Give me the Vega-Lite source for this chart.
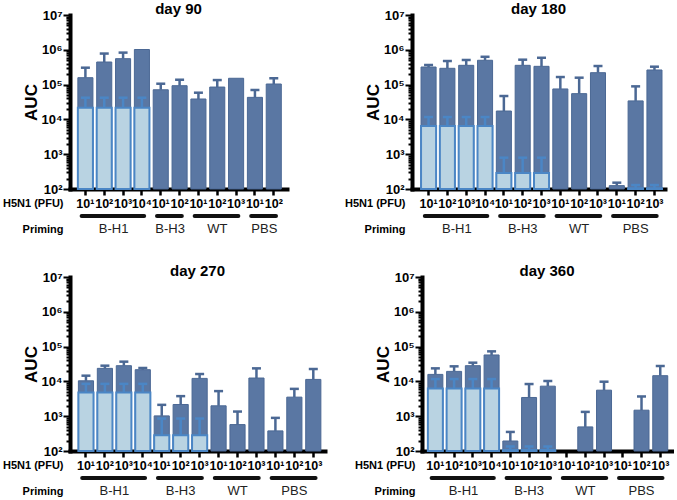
{
  "$schema": "https://vega.github.io/schema/vega-lite/v6.json",
  "padding": {"left": 2, "top": 2, "right": 2, "bottom": 2},
  "background": "white",
  "datasets": {
    "bars": [
      {"day": "day 90", "id": "B-H1 10¹", "auc": 158000, "hi": 306000, "base": 21700, "base_hi": 42000},
      {"day": "day 90", "id": "B-H1 10²", "auc": 446000, "hi": 780000, "base": 21700, "base_hi": 42000},
      {"day": "day 90", "id": "B-H1 10³", "auc": 556000, "hi": 830000, "base": 21700, "base_hi": 42000},
      {"day": "day 90", "id": "B-H1 10⁴", "auc": 1020000, "hi": null, "base": 21700, "base_hi": 42000},
      {"day": "day 90", "id": "B-H3 10¹", "auc": 71000, "hi": 106000, "base": null, "base_hi": null},
      {"day": "day 90", "id": "B-H3 10²", "auc": 93000, "hi": 138000, "base": null, "base_hi": null},
      {"day": "day 90", "id": "WT 10¹", "auc": 38600, "hi": 58500, "base": null, "base_hi": null},
      {"day": "day 90", "id": "WT 10²", "auc": 85000, "hi": 135000, "base": null, "base_hi": null},
      {"day": "day 90", "id": "WT 10³", "auc": 152000, "hi": null, "base": null, "base_hi": null},
      {"day": "day 90", "id": "PBS 10¹", "auc": 43000, "hi": 70000, "base": null, "base_hi": null},
      {"day": "day 90", "id": "PBS 10²", "auc": 104000, "hi": 152000, "base": null, "base_hi": null},

      {"day": "day 180", "id": "B-H1 10¹", "auc": 320000, "hi": 366000, "base": 6460, "base_hi": 11700},
      {"day": "day 180", "id": "B-H1 10²", "auc": 294000, "hi": 476000, "base": 6460, "base_hi": 11700},
      {"day": "day 180", "id": "B-H1 10³", "auc": 358000, "hi": 510000, "base": 6460, "base_hi": 11700},
      {"day": "day 180", "id": "B-H1 10⁴", "auc": 500000, "hi": 630000, "base": 6460, "base_hi": 11700},
      {"day": "day 180", "id": "B-H3 10¹", "auc": 17400, "hi": 47000, "base": 288, "base_hi": 795},
      {"day": "day 180", "id": "B-H3 10²", "auc": 358000, "hi": 520000, "base": 288, "base_hi": 795},
      {"day": "day 180", "id": "B-H3 10³", "auc": 335000, "hi": 590000, "base": 288, "base_hi": 795},
      {"day": "day 180", "id": "WT 10¹", "auc": 75000, "hi": 165000, "base": null, "base_hi": null},
      {"day": "day 180", "id": "WT 10²", "auc": 55000, "hi": 158000, "base": null, "base_hi": null},
      {"day": "day 180", "id": "WT 10³", "auc": 220000, "hi": 342000, "base": null, "base_hi": null},
      {"day": "day 180", "id": "PBS 10¹", "auc": 125, "hi": 152, "base": null, "base_hi": null},
      {"day": "day 180", "id": "PBS 10²", "auc": 34000, "hi": 89000, "base": 105, "base_hi": 130},
      {"day": "day 180", "id": "PBS 10³", "auc": 263000, "hi": 327000, "base": 105, "base_hi": 130},

      {"day": "day 270", "id": "B-H1 10¹", "auc": 10400, "hi": 14600, "base": 4800, "base_hi": 8500},
      {"day": "day 270", "id": "B-H1 10²", "auc": 23700, "hi": 28300, "base": 4800, "base_hi": 8500},
      {"day": "day 270", "id": "B-H1 10³", "auc": 28300, "hi": 36900, "base": 4800, "base_hi": 8500},
      {"day": "day 270", "id": "B-H1 10⁴", "auc": 21700, "hi": 24300, "base": 4800, "base_hi": 8500},
      {"day": "day 270", "id": "B-H3 10¹", "auc": 1020, "hi": 2120, "base": 283, "base_hi": 857},
      {"day": "day 270", "id": "B-H3 10²", "auc": 2170, "hi": 3770, "base": 283, "base_hi": 857},
      {"day": "day 270", "id": "B-H3 10³", "auc": 12200, "hi": 16300, "base": 283, "base_hi": 857},
      {"day": "day 270", "id": "WT 10¹", "auc": 1990, "hi": 5260, "base": null, "base_hi": null},
      {"day": "day 270", "id": "WT 10²", "auc": 575, "hi": 1360, "base": null, "base_hi": null},
      {"day": "day 270", "id": "WT 10³", "auc": 12500, "hi": 23700, "base": null, "base_hi": null},
      {"day": "day 270", "id": "PBS 10¹", "auc": 378, "hi": 895, "base": null, "base_hi": null},
      {"day": "day 270", "id": "PBS 10²", "auc": 3530, "hi": 6100, "base": null, "base_hi": null},
      {"day": "day 270", "id": "PBS 10³", "auc": 11400, "hi": 22700, "base": null, "base_hi": null},

      {"day": "day 360", "id": "B-H1 10¹", "auc": 15900, "hi": 23700, "base": 6300, "base_hi": 11700},
      {"day": "day 360", "id": "B-H1 10²", "auc": 19400, "hi": 27100, "base": 6300, "base_hi": 11700},
      {"day": "day 360", "id": "B-H1 10³", "auc": 28300, "hi": 34500, "base": 6300, "base_hi": 11700},
      {"day": "day 360", "id": "B-H1 10⁴", "auc": 57500, "hi": 73000, "base": 6300, "base_hi": 11700},
      {"day": "day 360", "id": "B-H3 10¹", "auc": 194, "hi": 353, "base": 106, "base_hi": 135},
      {"day": "day 360", "id": "B-H3 10²", "auc": 3450, "hi": 8400, "base": 106, "base_hi": 135},
      {"day": "day 360", "id": "B-H3 10³", "auc": 7300, "hi": 10200, "base": 106, "base_hi": 135},
      {"day": "day 360", "id": "WT 10²", "auc": 492, "hi": 1330, "base": null, "base_hi": null},
      {"day": "day 360", "id": "WT 10³", "auc": 5600, "hi": 9800, "base": null, "base_hi": null},
      {"day": "day 360", "id": "PBS 10²", "auc": 1490, "hi": 3690, "base": null, "base_hi": null},
      {"day": "day 360", "id": "PBS 10³", "auc": 14600, "hi": 27700, "base": null, "base_hi": null}
    ],
    "groups": [
      {"day": "day 90", "group": "B-H1", "first": "B-H1 10¹", "last": "B-H1 10⁴", "center": "B-H1 10²", "n": 4},
      {"day": "day 90", "group": "B-H3", "first": "B-H3 10¹", "last": "B-H3 10²", "center": "B-H3 10¹", "n": 2},
      {"day": "day 90", "group": "WT", "first": "WT 10¹", "last": "WT 10³", "center": "WT 10²", "n": 3},
      {"day": "day 90", "group": "PBS", "first": "PBS 10¹", "last": "PBS 10²", "center": "PBS 10¹", "n": 2},
      {"day": "day 180", "group": "B-H1", "first": "B-H1 10¹", "last": "B-H1 10⁴", "center": "B-H1 10²", "n": 4},
      {"day": "day 180", "group": "B-H3", "first": "B-H3 10¹", "last": "B-H3 10³", "center": "B-H3 10²", "n": 3},
      {"day": "day 180", "group": "WT", "first": "WT 10¹", "last": "WT 10³", "center": "WT 10²", "n": 3},
      {"day": "day 180", "group": "PBS", "first": "PBS 10¹", "last": "PBS 10³", "center": "PBS 10²", "n": 3},
      {"day": "day 270", "group": "B-H1", "first": "B-H1 10¹", "last": "B-H1 10⁴", "center": "B-H1 10²", "n": 4},
      {"day": "day 270", "group": "B-H3", "first": "B-H3 10¹", "last": "B-H3 10³", "center": "B-H3 10²", "n": 3},
      {"day": "day 270", "group": "WT", "first": "WT 10¹", "last": "WT 10³", "center": "WT 10²", "n": 3},
      {"day": "day 270", "group": "PBS", "first": "PBS 10¹", "last": "PBS 10³", "center": "PBS 10²", "n": 3},
      {"day": "day 360", "group": "B-H1", "first": "B-H1 10¹", "last": "B-H1 10⁴", "center": "B-H1 10²", "n": 4},
      {"day": "day 360", "group": "B-H3", "first": "B-H3 10¹", "last": "B-H3 10³", "center": "B-H3 10²", "n": 3},
      {"day": "day 360", "group": "WT", "first": "WT 10¹", "last": "WT 10³", "center": "WT 10²", "n": 3},
      {"day": "day 360", "group": "PBS", "first": "PBS 10¹", "last": "PBS 10³", "center": "PBS 10²", "n": 3}
    ]
  },
  "spacing": 28,
  "vconcat": [
    {
      "spacing": 57,
      "hconcat": [
        {
          "width": 217, "height": 174,
          "title": "day 90",
          "layer": [
            {"data": {"name": "bars"}, "transform": [{"filter": "datum.day == 'day 90' && isValid(datum.auc)"}],
             "mark": {"type": "bar", "fill": "#5a77a3", "stroke": "#4b6894", "strokeWidth": 1},
             "encoding": {
               "x": {"field": "id", "type": "nominal", "scale": {"domain": ["B-H1 10¹","B-H1 10²","B-H1 10³","B-H1 10⁴","B-H3 10¹","B-H3 10²","WT 10¹","WT 10²","WT 10³","PBS 10¹","PBS 10²"], "paddingInner": 0.2, "paddingOuter": 0.36, "align": 0.58},
                     "axis": {"title": ["H5N1 (PFU)", "Priming"], "labelExpr": "split(datum.label, ' ')[1]"}},
               "y": {"field": "auc", "type": "quantitative", "scale": {"type": "log", "domain": [100, 10000000], "nice": false},
                     "axis": {"title": "AUC", "values": [100,200,300,400,500,600,700,800,900,1000,2000,3000,4000,5000,6000,7000,8000,9000,10000,20000,30000,40000,50000,60000,70000,80000,90000,100000,200000,300000,400000,500000,600000,700000,800000,900000,1000000,2000000,3000000,4000000,5000000,6000000,7000000,8000000,9000000,10000000],
                              "labelExpr": "abs(log(datum.value)/LN10 - round(log(datum.value)/LN10)) < 0.01 ? '10' + ['⁰','¹','²','³','⁴','⁵','⁶','⁷'][round(log(datum.value)/LN10)] : ''",
                              "tickSize": {"condition": {"test": "abs(log(datum.value)/LN10 - round(log(datum.value)/LN10)) < 0.01", "value": 7}, "value": 4}}},
               "y2": {"datum": 100}
             }},
            {"data": {"name": "bars"}, "transform": [{"filter": "datum.day == 'day 90' && isValid(datum.hi)"}],
             "mark": {"type": "rule", "stroke": "#4b6894", "strokeWidth": 2.5},
             "encoding": {"x": {"field": "id", "type": "nominal"}, "y": {"field": "auc", "type": "quantitative"}, "y2": {"field": "hi"}}},
            {"data": {"name": "bars"}, "transform": [{"filter": "datum.day == 'day 90' && isValid(datum.hi)"}],
             "mark": {"type": "tick", "color": "#4b6894", "size": 9, "thickness": 2.5, "opacity": 1},
             "encoding": {"x": {"field": "id", "type": "nominal"}, "y": {"field": "hi", "type": "quantitative"}}},
            {"data": {"name": "bars"}, "transform": [{"filter": "datum.day == 'day 90' && isValid(datum.base)"}],
             "mark": {"type": "bar", "fill": "#b9d3e2", "stroke": "#4b86c5", "strokeWidth": 2},
             "encoding": {"x": {"field": "id", "type": "nominal"}, "y": {"field": "base", "type": "quantitative"}, "y2": {"datum": 100}}},
            {"data": {"name": "bars"}, "transform": [{"filter": "datum.day == 'day 90' && isValid(datum.base_hi)"}],
             "mark": {"type": "rule", "stroke": "#4b86c5", "strokeWidth": 2.5},
             "encoding": {"x": {"field": "id", "type": "nominal"}, "y": {"field": "base", "type": "quantitative"}, "y2": {"field": "base_hi"}}},
            {"data": {"name": "bars"}, "transform": [{"filter": "datum.day == 'day 90' && isValid(datum.base_hi)"}],
             "mark": {"type": "tick", "color": "#4b86c5", "size": 9, "thickness": 2.5, "opacity": 1},
             "encoding": {"x": {"field": "id", "type": "nominal"}, "y": {"field": "base_hi", "type": "quantitative"}}},
            {"data": {"name": "groups"}, "transform": [{"filter": "datum.day == 'day 90'"}],
             "mark": {"type": "rule", "stroke": "#111", "strokeWidth": 4, "strokeCap": "round"},
             "encoding": {"x": {"field": "first", "type": "nominal", "bandPosition": 0.25}, "x2": {"field": "last", "bandPosition": 0.65}, "y": {"datum": 16.8}}},
            {"data": {"name": "groups"}, "transform": [{"filter": "datum.day == 'day 90' && datum.n % 2 == 1"}],
             "mark": {"type": "text", "fontSize": 13, "font": "Liberation Sans", "color": "#222", "baseline": "middle"},
             "encoding": {"x": {"field": "center", "type": "nominal", "bandPosition": 0.5}, "y": {"datum": 7.1}, "text": {"field": "group"}}},
            {"data": {"name": "groups"}, "transform": [{"filter": "datum.day == 'day 90' && datum.n % 2 == 0"}],
             "mark": {"type": "text", "fontSize": 13, "font": "Liberation Sans", "color": "#222", "baseline": "middle"},
             "encoding": {"x": {"field": "center", "type": "nominal", "bandPosition": 1.125}, "y": {"datum": 7.1}, "text": {"field": "group"}}}
          ]
        },
        {
          "width": 253, "height": 174,
          "title": "day 180",
          "layer": [
            {"data": {"name": "bars"}, "transform": [{"filter": "datum.day == 'day 180' && isValid(datum.auc)"}],
             "mark": {"type": "bar", "fill": "#5a77a3", "stroke": "#4b6894", "strokeWidth": 1},
             "encoding": {
               "x": {"field": "id", "type": "nominal", "scale": {"domain": ["B-H1 10¹","B-H1 10²","B-H1 10³","B-H1 10⁴","B-H3 10¹","B-H3 10²","B-H3 10³","WT 10¹","WT 10²","WT 10³","PBS 10¹","PBS 10²","PBS 10³"], "paddingInner": 0.2, "paddingOuter": 0.32, "align": 0.75},
                     "axis": {"title": ["H5N1 (PFU)", "Priming"], "labelExpr": "split(datum.label, ' ')[1]"}},
               "y": {"field": "auc", "type": "quantitative", "scale": {"type": "log", "domain": [100, 10000000], "nice": false},
                     "axis": {"title": "AUC", "values": [100,200,300,400,500,600,700,800,900,1000,2000,3000,4000,5000,6000,7000,8000,9000,10000,20000,30000,40000,50000,60000,70000,80000,90000,100000,200000,300000,400000,500000,600000,700000,800000,900000,1000000,2000000,3000000,4000000,5000000,6000000,7000000,8000000,9000000,10000000],
                              "labelExpr": "abs(log(datum.value)/LN10 - round(log(datum.value)/LN10)) < 0.01 ? '10' + ['⁰','¹','²','³','⁴','⁵','⁶','⁷'][round(log(datum.value)/LN10)] : ''",
                              "tickSize": {"condition": {"test": "abs(log(datum.value)/LN10 - round(log(datum.value)/LN10)) < 0.01", "value": 7}, "value": 4}}},
               "y2": {"datum": 100}
             }},
            {"data": {"name": "bars"}, "transform": [{"filter": "datum.day == 'day 180' && isValid(datum.hi)"}],
             "mark": {"type": "rule", "stroke": "#4b6894", "strokeWidth": 2.5},
             "encoding": {"x": {"field": "id", "type": "nominal"}, "y": {"field": "auc", "type": "quantitative"}, "y2": {"field": "hi"}}},
            {"data": {"name": "bars"}, "transform": [{"filter": "datum.day == 'day 180' && isValid(datum.hi)"}],
             "mark": {"type": "tick", "color": "#4b6894", "size": 9, "thickness": 2.5, "opacity": 1},
             "encoding": {"x": {"field": "id", "type": "nominal"}, "y": {"field": "hi", "type": "quantitative"}}},
            {"data": {"name": "bars"}, "transform": [{"filter": "datum.day == 'day 180' && isValid(datum.base)"}],
             "mark": {"type": "bar", "fill": "#b9d3e2", "stroke": "#4b86c5", "strokeWidth": 2},
             "encoding": {"x": {"field": "id", "type": "nominal"}, "y": {"field": "base", "type": "quantitative"}, "y2": {"datum": 100}}},
            {"data": {"name": "bars"}, "transform": [{"filter": "datum.day == 'day 180' && isValid(datum.base_hi)"}],
             "mark": {"type": "rule", "stroke": "#4b86c5", "strokeWidth": 2.5},
             "encoding": {"x": {"field": "id", "type": "nominal"}, "y": {"field": "base", "type": "quantitative"}, "y2": {"field": "base_hi"}}},
            {"data": {"name": "bars"}, "transform": [{"filter": "datum.day == 'day 180' && isValid(datum.base_hi)"}],
             "mark": {"type": "tick", "color": "#4b86c5", "size": 9, "thickness": 2.5, "opacity": 1},
             "encoding": {"x": {"field": "id", "type": "nominal"}, "y": {"field": "base_hi", "type": "quantitative"}}},
            {"data": {"name": "groups"}, "transform": [{"filter": "datum.day == 'day 180'"}],
             "mark": {"type": "rule", "stroke": "#111", "strokeWidth": 4, "strokeCap": "round"},
             "encoding": {"x": {"field": "first", "type": "nominal", "bandPosition": 0.25}, "x2": {"field": "last", "bandPosition": 0.65}, "y": {"datum": 16.8}}},
            {"data": {"name": "groups"}, "transform": [{"filter": "datum.day == 'day 180' && datum.n % 2 == 1"}],
             "mark": {"type": "text", "fontSize": 13, "font": "Liberation Sans", "color": "#222", "baseline": "middle"},
             "encoding": {"x": {"field": "center", "type": "nominal", "bandPosition": 0.5}, "y": {"datum": 7.1}, "text": {"field": "group"}}},
            {"data": {"name": "groups"}, "transform": [{"filter": "datum.day == 'day 180' && datum.n % 2 == 0"}],
             "mark": {"type": "text", "fontSize": 13, "font": "Liberation Sans", "color": "#222", "baseline": "middle"},
             "encoding": {"x": {"field": "center", "type": "nominal", "bandPosition": 1.125}, "y": {"datum": 7.1}, "text": {"field": "group"}}}
          ]
        }
      ]
    },
    {
      "spacing": 29,
      "hconcat": [
        {
          "width": 255, "height": 174,
          "title": "day 270",
          "layer": [
            {"data": {"name": "bars"}, "transform": [{"filter": "datum.day == 'day 270' && isValid(datum.auc)"}],
             "mark": {"type": "bar", "fill": "#5a77a3", "stroke": "#4b6894", "strokeWidth": 1},
             "encoding": {
               "x": {"field": "id", "type": "nominal", "scale": {"domain": ["B-H1 10¹","B-H1 10²","B-H1 10³","B-H1 10⁴","B-H3 10¹","B-H3 10²","B-H3 10³","WT 10¹","WT 10²","WT 10³","PBS 10¹","PBS 10²","PBS 10³"], "paddingInner": 0.2, "paddingOuter": 0.33, "align": 0.67},
                     "axis": {"title": ["H5N1 (PFU)", "Priming"], "labelExpr": "split(datum.label, ' ')[1]"}},
               "y": {"field": "auc", "type": "quantitative", "scale": {"type": "log", "domain": [100, 10000000], "nice": false},
                     "axis": {"title": "AUC", "values": [100,200,300,400,500,600,700,800,900,1000,2000,3000,4000,5000,6000,7000,8000,9000,10000,20000,30000,40000,50000,60000,70000,80000,90000,100000,200000,300000,400000,500000,600000,700000,800000,900000,1000000,2000000,3000000,4000000,5000000,6000000,7000000,8000000,9000000,10000000],
                              "labelExpr": "abs(log(datum.value)/LN10 - round(log(datum.value)/LN10)) < 0.01 ? '10' + ['⁰','¹','²','³','⁴','⁵','⁶','⁷'][round(log(datum.value)/LN10)] : ''",
                              "tickSize": {"condition": {"test": "abs(log(datum.value)/LN10 - round(log(datum.value)/LN10)) < 0.01", "value": 7}, "value": 4}}},
               "y2": {"datum": 100}
             }},
            {"data": {"name": "bars"}, "transform": [{"filter": "datum.day == 'day 270' && isValid(datum.hi)"}],
             "mark": {"type": "rule", "stroke": "#4b6894", "strokeWidth": 2.5},
             "encoding": {"x": {"field": "id", "type": "nominal"}, "y": {"field": "auc", "type": "quantitative"}, "y2": {"field": "hi"}}},
            {"data": {"name": "bars"}, "transform": [{"filter": "datum.day == 'day 270' && isValid(datum.hi)"}],
             "mark": {"type": "tick", "color": "#4b6894", "size": 9, "thickness": 2.5, "opacity": 1},
             "encoding": {"x": {"field": "id", "type": "nominal"}, "y": {"field": "hi", "type": "quantitative"}}},
            {"data": {"name": "bars"}, "transform": [{"filter": "datum.day == 'day 270' && isValid(datum.base)"}],
             "mark": {"type": "bar", "fill": "#b9d3e2", "stroke": "#4b86c5", "strokeWidth": 2},
             "encoding": {"x": {"field": "id", "type": "nominal"}, "y": {"field": "base", "type": "quantitative"}, "y2": {"datum": 100}}},
            {"data": {"name": "bars"}, "transform": [{"filter": "datum.day == 'day 270' && isValid(datum.base_hi)"}],
             "mark": {"type": "rule", "stroke": "#4b86c5", "strokeWidth": 2.5},
             "encoding": {"x": {"field": "id", "type": "nominal"}, "y": {"field": "base", "type": "quantitative"}, "y2": {"field": "base_hi"}}},
            {"data": {"name": "bars"}, "transform": [{"filter": "datum.day == 'day 270' && isValid(datum.base_hi)"}],
             "mark": {"type": "tick", "color": "#4b86c5", "size": 9, "thickness": 2.5, "opacity": 1},
             "encoding": {"x": {"field": "id", "type": "nominal"}, "y": {"field": "base_hi", "type": "quantitative"}}},
            {"data": {"name": "groups"}, "transform": [{"filter": "datum.day == 'day 270'"}],
             "mark": {"type": "rule", "stroke": "#111", "strokeWidth": 4, "strokeCap": "round"},
             "encoding": {"x": {"field": "first", "type": "nominal", "bandPosition": 0.25}, "x2": {"field": "last", "bandPosition": 0.65}, "y": {"datum": 16.8}}},
            {"data": {"name": "groups"}, "transform": [{"filter": "datum.day == 'day 270' && datum.n % 2 == 1"}],
             "mark": {"type": "text", "fontSize": 13, "font": "Liberation Sans", "color": "#222", "baseline": "middle"},
             "encoding": {"x": {"field": "center", "type": "nominal", "bandPosition": 0.5}, "y": {"datum": 7.1}, "text": {"field": "group"}}},
            {"data": {"name": "groups"}, "transform": [{"filter": "datum.day == 'day 270' && datum.n % 2 == 0"}],
             "mark": {"type": "text", "fontSize": 13, "font": "Liberation Sans", "color": "#222", "baseline": "middle"},
             "encoding": {"x": {"field": "center", "type": "nominal", "bandPosition": 1.125}, "y": {"datum": 7.1}, "text": {"field": "group"}}}
          ]
        },
        {
          "width": 250, "height": 174,
          "title": "day 360",
          "layer": [
            {"data": {"name": "bars"}, "transform": [{"filter": "datum.day == 'day 360' && isValid(datum.auc)"}],
             "mark": {"type": "bar", "fill": "#5a77a3", "stroke": "#4b6894", "strokeWidth": 1},
             "encoding": {
               "x": {"field": "id", "type": "nominal", "scale": {"domain": ["B-H1 10¹","B-H1 10²","B-H1 10³","B-H1 10⁴","B-H3 10¹","B-H3 10²","B-H3 10³","WT 10¹","WT 10²","WT 10³","PBS 10¹","PBS 10²","PBS 10³"], "paddingInner": 0.2, "paddingOuter": 0.27, "align": 0.58},
                     "axis": {"title": ["H5N1 (PFU)", "Priming"], "labelExpr": "split(datum.label, ' ')[1]"}},
               "y": {"field": "auc", "type": "quantitative", "scale": {"type": "log", "domain": [100, 10000000], "nice": false},
                     "axis": {"title": "AUC", "values": [100,200,300,400,500,600,700,800,900,1000,2000,3000,4000,5000,6000,7000,8000,9000,10000,20000,30000,40000,50000,60000,70000,80000,90000,100000,200000,300000,400000,500000,600000,700000,800000,900000,1000000,2000000,3000000,4000000,5000000,6000000,7000000,8000000,9000000,10000000],
                              "labelExpr": "abs(log(datum.value)/LN10 - round(log(datum.value)/LN10)) < 0.01 ? '10' + ['⁰','¹','²','³','⁴','⁵','⁶','⁷'][round(log(datum.value)/LN10)] : ''",
                              "tickSize": {"condition": {"test": "abs(log(datum.value)/LN10 - round(log(datum.value)/LN10)) < 0.01", "value": 7}, "value": 4}}},
               "y2": {"datum": 100}
             }},
            {"data": {"name": "bars"}, "transform": [{"filter": "datum.day == 'day 360' && isValid(datum.hi)"}],
             "mark": {"type": "rule", "stroke": "#4b6894", "strokeWidth": 2.5},
             "encoding": {"x": {"field": "id", "type": "nominal"}, "y": {"field": "auc", "type": "quantitative"}, "y2": {"field": "hi"}}},
            {"data": {"name": "bars"}, "transform": [{"filter": "datum.day == 'day 360' && isValid(datum.hi)"}],
             "mark": {"type": "tick", "color": "#4b6894", "size": 9, "thickness": 2.5, "opacity": 1},
             "encoding": {"x": {"field": "id", "type": "nominal"}, "y": {"field": "hi", "type": "quantitative"}}},
            {"data": {"name": "bars"}, "transform": [{"filter": "datum.day == 'day 360' && isValid(datum.base)"}],
             "mark": {"type": "bar", "fill": "#b9d3e2", "stroke": "#4b86c5", "strokeWidth": 2},
             "encoding": {"x": {"field": "id", "type": "nominal"}, "y": {"field": "base", "type": "quantitative"}, "y2": {"datum": 100}}},
            {"data": {"name": "bars"}, "transform": [{"filter": "datum.day == 'day 360' && isValid(datum.base_hi)"}],
             "mark": {"type": "rule", "stroke": "#4b86c5", "strokeWidth": 2.5},
             "encoding": {"x": {"field": "id", "type": "nominal"}, "y": {"field": "base", "type": "quantitative"}, "y2": {"field": "base_hi"}}},
            {"data": {"name": "bars"}, "transform": [{"filter": "datum.day == 'day 360' && isValid(datum.base_hi)"}],
             "mark": {"type": "tick", "color": "#4b86c5", "size": 9, "thickness": 2.5, "opacity": 1},
             "encoding": {"x": {"field": "id", "type": "nominal"}, "y": {"field": "base_hi", "type": "quantitative"}}},
            {"data": {"name": "groups"}, "transform": [{"filter": "datum.day == 'day 360'"}],
             "mark": {"type": "rule", "stroke": "#111", "strokeWidth": 4, "strokeCap": "round"},
             "encoding": {"x": {"field": "first", "type": "nominal", "bandPosition": 0.25}, "x2": {"field": "last", "bandPosition": 0.65}, "y": {"datum": 16.8}}},
            {"data": {"name": "groups"}, "transform": [{"filter": "datum.day == 'day 360' && datum.n % 2 == 1"}],
             "mark": {"type": "text", "fontSize": 13, "font": "Liberation Sans", "color": "#222", "baseline": "middle"},
             "encoding": {"x": {"field": "center", "type": "nominal", "bandPosition": 0.5}, "y": {"datum": 7.1}, "text": {"field": "group"}}},
            {"data": {"name": "groups"}, "transform": [{"filter": "datum.day == 'day 360' && datum.n % 2 == 0"}],
             "mark": {"type": "text", "fontSize": 13, "font": "Liberation Sans", "color": "#222", "baseline": "middle"},
             "encoding": {"x": {"field": "center", "type": "nominal", "bandPosition": 1.125}, "y": {"datum": 7.1}, "text": {"field": "group"}}}
          ]
        }
      ]
    }
  ],
  "config": {
    "view": {"stroke": null},
    "font": "Liberation Sans",
    "title": {"fontSize": 15, "fontWeight": "bold", "font": "Liberation Sans", "color": "#000", "offset": -8, "anchor": "middle", "frame": "group"},
    "axis": {"grid": false, "domainColor": "#000", "tickColor": "#000", "labelColor": "#000", "titleColor": "#000", "labelFont": "Liberation Sans", "titleFont": "Liberation Sans", "domainCap": "square"},
    "axisX": {"labelAngle": 0, "labelFontSize": 12.5, "labelFontWeight": "bold", "labelPadding": 2, "labelOverlap": false, "tickSize": 6, "tickWidth": 2.5, "domainWidth": 4,
              "titleX": -7, "titleY": 14, "titleAlign": "right", "titleBaseline": "middle", "titleLineHeight": 26, "titleFontSize": 11, "titleFontWeight": "bold", "titleAngle": 0},
    "axisY": {"labelFontSize": 13, "labelFontWeight": "bold", "labelPadding": 1, "labelOverlap": false, "tickWidth": 2, "domainWidth": 4, "titleFontSize": 17, "titleFontWeight": "bold", "titlePadding": 1}
  }
}
